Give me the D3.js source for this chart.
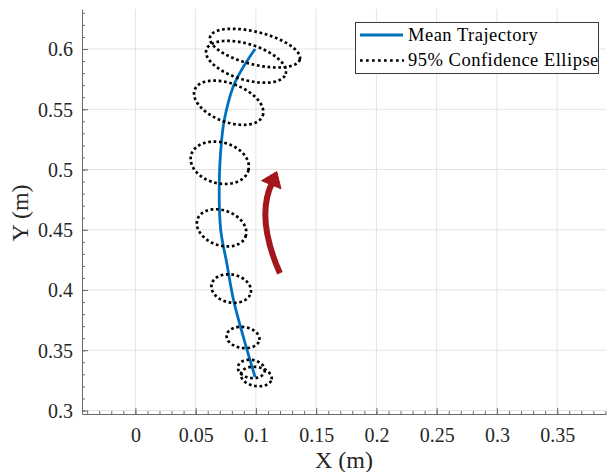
<!DOCTYPE html>
<html>
<head>
<meta charset="utf-8">
<script src="https://cdn.jsdelivr.net/npm/d3@7"></script>
<style>
  html, body { margin: 0; padding: 0; background: #fff; }
  svg { display: block; font-family: "Liberation Serif", "Times New Roman", serif; }
</style>
</head>
<body>
<svg id="chart" width="607" height="472"></svg>
<script>
// Mean end-point trajectory (metres)
const trajX = [0.0993, 0.0895, 0.0814, 0.0758, 0.0708, 0.0696, 0.0716, 0.0738, 0.0812, 0.0882, 0.0993];
const trajY = [0.3278, 0.3613, 0.3918, 0.4225, 0.4499, 0.4890, 0.5247, 0.5413, 0.5689, 0.5828, 0.6000];

// 95% confidence ellipses: centre, semi-axes (m) and orientation (deg, counter-clockwise)
const ellCx  = [0.1003, 0.0962, 0.0893, 0.0795, 0.0715, 0.0700, 0.0774, 0.0918, 0.0992];
const ellCy  = [0.3282, 0.3345, 0.3606, 0.4012, 0.4516, 0.5056, 0.5554, 0.5894, 0.6007];
const ellA   = [0.0129, 0.0112, 0.0137, 0.0166, 0.0212, 0.0246, 0.0302, 0.0344, 0.0384];
const ellB   = [0.0079, 0.0075, 0.0087, 0.0116, 0.0145, 0.0170, 0.0159, 0.0148, 0.0135];
const ellAng = [-10, -10, -8, -12, -20, -15, -21, -17, -14];

// Axis ticks
const xTicks = [0, 0.05, 0.1, 0.15, 0.2, 0.25, 0.3, 0.35];
const xTickLabels = ["0", "0.05", "0.1", "0.15", "0.2", "0.25", "0.3", "0.35"];
const yTicks = [0.3, 0.35, 0.4, 0.45, 0.5, 0.55, 0.6];
const yTickLabels = ["0.3", "0.35", "0.4", "0.45", "0.5", "0.55", "0.6"];
const xMinor = d3.range(-4, 40).map(i => i / 100);
const yMinor = d3.range(30, 64).map(i => i / 100);

const legendLabels = ["Mean Trajectory", "95% Confidence Ellipse"];

// Direction-of-motion arrow: tail, bend control point, shaft end, tip (metres)
const arrowX = [0.1199, 0.0996, 0.1134, 0.1173];
const arrowY = [0.4139, 0.4602, 0.4889, 0.4983];

const blue = "#0072BD";
const red = "#A3161C";

const svg = d3.select("#chart");
const x = d3.scaleLinear().domain([-0.0443, 0.3905]).range([82, 606]);
const y = d3.scaleLinear().domain([0.2971, 0.6332]).range([414, 9]);

// grid
const grid = svg.append("g").attr("stroke", "#e4e4e4").attr("stroke-width", 1);
grid.selectAll("line.gx").data(xTicks).join("line").attr("class", "gx")
  .attr("x1", d => x(d)).attr("x2", d => x(d)).attr("y1", y.range()[0]).attr("y2", y.range()[1]);
grid.selectAll("line.gy").data(yTicks).join("line").attr("class", "gy")
  .attr("y1", d => y(d)).attr("y2", d => y(d)).attr("x1", x.range()[0]).attr("x2", x.range()[1]);

// axes (inward ticks)
const axisColor = "#6b6b6b";
const gx = svg.append("g").attr("transform", `translate(0,${y.range()[0]})`);
gx.call(d3.axisBottom(x).tickValues(xMinor).tickFormat("").tickSizeInner(-3).tickSizeOuter(0));
gx.append("g").call(d3.axisBottom(x).tickValues(xTicks).tickFormat((d, i) => xTickLabels[i])
  .tickSizeInner(-6).tickSizeOuter(0).tickPadding(14))
  .call(g => g.select(".domain").remove());
gx.selectAll(".domain").attr("stroke", axisColor);
gx.selectAll(".tick line").attr("stroke", axisColor);
gx.selectAll(".tick text").attr("font-size", 20).attr("fill", "#262626")
  .attr("font-family", "Liberation Serif, serif");

const gy = svg.append("g").attr("transform", `translate(${x.range()[0]},0)`);
gy.call(d3.axisLeft(y).tickValues(yMinor).tickFormat("").tickSizeInner(-3).tickSizeOuter(0));
gy.append("g").call(d3.axisLeft(y).tickValues(yTicks).tickFormat((d, i) => yTickLabels[i])
  .tickSizeInner(-6).tickSizeOuter(0).tickPadding(9))
  .call(g => g.select(".domain").remove());
gy.selectAll(".domain").attr("stroke", axisColor);
gy.selectAll(".tick line").attr("stroke", axisColor);
gy.selectAll(".tick text").attr("font-size", 20).attr("fill", "#262626")
  .attr("font-family", "Liberation Serif, serif").attr("dy", "0.34em");

// axis titles
svg.append("text").attr("x", (x.range()[0] + x.range()[1]) / 2).attr("y", 468)
  .attr("text-anchor", "middle").attr("font-size", 24).attr("fill", "#262626").text("X (m)");
svg.append("text").attr("transform", "translate(28,213) rotate(-90)")
  .attr("text-anchor", "middle").attr("font-size", 24).attr("fill", "#262626").text("Y (m)");

// mean trajectory
const traj = trajX.map((v, i) => [v, trajY[i]]);
svg.append("path").datum(traj)
  .attr("d", d3.line().x(d => x(d[0])).y(d => y(d[1])).curve(d3.curveCatmullRom.alpha(0.5)))
  .attr("fill", "none").attr("stroke", blue).attr("stroke-width", 2.8);

// confidence ellipses
const ellipses = ellCx.map((cx, i) => ({cx, cy: ellCy[i], a: ellA[i], b: ellB[i], ang: ellAng[i]}));
const ellLine = d3.line().x(d => x(d[0])).y(d => y(d[1]));
svg.append("g").selectAll("path").data(ellipses).join("path")
  .attr("d", e => {
    const phi = e.ang * Math.PI / 180;
    const pts = d3.range(0, 121).map(k => {
      const t = 2 * Math.PI * k / 120;
      const dx = e.a * Math.cos(t), dy = e.b * Math.sin(t);
      return [e.cx + dx * Math.cos(phi) - dy * Math.sin(phi), e.cy + dx * Math.sin(phi) + dy * Math.cos(phi)];
    });
    return ellLine(pts);
  })
  .attr("fill", "none").attr("stroke", "#000").attr("stroke-width", 2.7)
  .attr("stroke-dasharray", "2.7 2.7");

// direction arrow
const p0 = [x(arrowX[0]), y(arrowY[0])];
const pc = [x(arrowX[1]), y(arrowY[1])];
const p1 = [x(arrowX[2]), y(arrowY[2])];
const tip = [x(arrowX[3]), y(arrowY[3])];
svg.append("path")
  .attr("d", `M${p0[0]},${p0[1]} Q${pc[0]},${pc[1]} ${p1[0]},${p1[1]}`)
  .attr("fill", "none").attr("stroke", red).attr("stroke-width", 6);
{
  const dx = tip[0] - p1[0], dy = tip[1] - p1[1];
  const L = Math.hypot(dx, dy);
  const ux = dx / L, uy = dy / L;
  const hw = 10.5;
  const base = [p1[0] - ux * 2, p1[1] - uy * 2];
  const pts = [tip, [base[0] - uy * hw, base[1] + ux * hw], [base[0] + uy * hw, base[1] - ux * hw]];
  svg.append("path").attr("d", "M" + pts.map(p => p.join(",")).join("L") + "Z")
    .attr("fill", red).attr("stroke", red).attr("stroke-width", 1).attr("stroke-linejoin", "round");
}

// legend
const lg = svg.append("g");
lg.append("rect").attr("x", 355.5).attr("y", 22.5).attr("width", 243).attr("height", 51)
  .attr("fill", "#fff").attr("stroke", "#3a3a3a").attr("stroke-width", 1);
lg.append("line").attr("x1", 360).attr("x2", 403).attr("y1", 35).attr("y2", 35)
  .attr("stroke", blue).attr("stroke-width", 2.8);
lg.append("line").attr("x1", 360).attr("x2", 404).attr("y1", 60.5).attr("y2", 60.5)
  .attr("stroke", "#000").attr("stroke-width", 2.7).attr("stroke-dasharray", "2.7 3.3");
lg.selectAll("text").data(legendLabels).join("text")
  .attr("x", 408).attr("y", (d, i) => i === 0 ? 40.5 : 65.5)
  .attr("font-size", 18.5).attr("letter-spacing", 0.5).attr("fill", "#000").text(d => d);
</script>
</body>
</html>
